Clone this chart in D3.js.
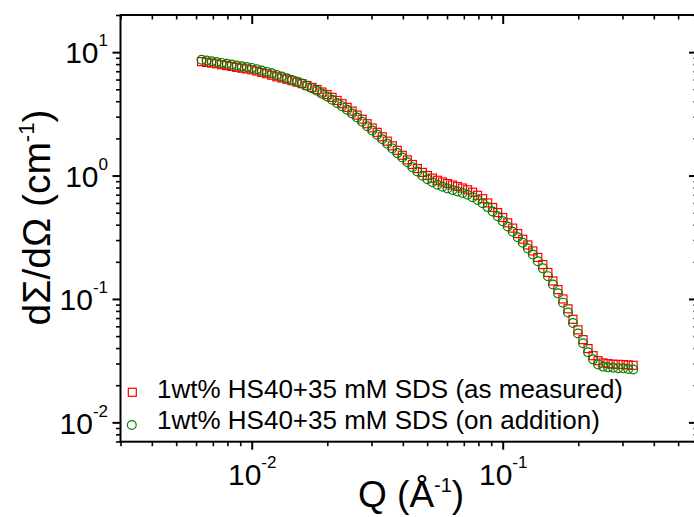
<!DOCTYPE html>
<html>
<head>
<meta charset="utf-8">
<script src="https://cdn.jsdelivr.net/npm/d3@7"></script>
<style>
  body { margin: 0; background: #fff; }
  svg { display: block; }
  svg text { font-family: "Liberation Sans", Arimo, Arial, Helvetica, sans-serif; }
</style>
</head>
<body>
<div id="chart"></div>
<script>
// Q values (1/Angstrom), shared by both series
const q = [
  0.006310, 0.006607, 0.006918, 0.007244, 0.007586, 0.007943, 0.008318, 0.008710, 0.009120, 0.009550,
  0.01000, 0.01047, 0.01096, 0.01148, 0.01202, 0.01259, 0.01318, 0.01380, 0.01445, 0.01514,
  0.01585, 0.01660, 0.01738, 0.01820, 0.01905, 0.01995, 0.02089, 0.02188, 0.02291, 0.02399,
  0.02512, 0.02630, 0.02754, 0.02884, 0.03020, 0.03162, 0.03311, 0.03467, 0.03631, 0.03802,
  0.03981, 0.04169, 0.04365, 0.04571, 0.04786, 0.05012, 0.05248, 0.05495, 0.05754, 0.06026,
  0.06310, 0.06607, 0.06918, 0.07244, 0.07586, 0.07943, 0.08318, 0.08710, 0.09120, 0.09550,
  0.1000, 0.1047, 0.1096, 0.1148, 0.1202, 0.1259, 0.1318, 0.1380, 0.1445, 0.1514,
  0.1585, 0.1660, 0.1738, 0.1820, 0.1905, 0.1995, 0.2089, 0.2188, 0.2291, 0.2399,
  0.2512, 0.2630, 0.2754, 0.2884, 0.3020, 0.3162, 0.3311
];

// dSigma/dOmega (1/cm), as measured
const measured = [
  8.38, 8.26, 8.15, 8.04, 7.91, 7.78, 7.66, 7.53, 7.41, 7.31,
  7.19, 7.03, 6.85, 6.68, 6.50, 6.31, 6.17, 6.03, 5.87, 5.71,
  5.56, 5.37, 5.18, 4.98, 4.75, 4.53, 4.30, 4.06, 3.82, 3.57,
  3.33, 3.09, 2.86, 2.63, 2.43, 2.24, 2.06, 1.90, 1.74, 1.60,
  1.46, 1.34, 1.23, 1.14, 1.06, 1.00, 0.953, 0.916, 0.887, 0.861,
  0.838, 0.815, 0.792, 0.766, 0.733, 0.692, 0.649, 0.600, 0.551, 0.501,
  0.457, 0.414, 0.375, 0.339, 0.305, 0.274, 0.245, 0.217, 0.190, 0.164,
  0.140, 0.119, 0.100, 0.0832, 0.0684, 0.0562, 0.0468, 0.0396, 0.0347, 0.0316,
  0.0303, 0.0299, 0.0296, 0.0295, 0.0294, 0.0292, 0.0290
];

// dSigma/dOmega (1/cm), on addition
const addition = [
  8.67, 8.55, 8.43, 8.32, 8.18, 8.05, 7.93, 7.80, 7.67, 7.57,
  7.45, 7.28, 7.10, 6.92, 6.73, 6.53, 6.34, 6.15, 5.96, 5.75,
  5.56, 5.33, 5.11, 4.86, 4.61, 4.37, 4.11, 3.87, 3.65, 3.41,
  3.18, 2.95, 2.73, 2.51, 2.32, 2.14, 1.97, 1.81, 1.66, 1.52,
  1.40, 1.28, 1.17, 1.08, 0.995, 0.933, 0.883, 0.843, 0.811, 0.785,
  0.764, 0.743, 0.723, 0.698, 0.668, 0.634, 0.597, 0.555, 0.512, 0.468,
  0.427, 0.386, 0.350, 0.316, 0.285, 0.256, 0.229, 0.202, 0.177, 0.153,
  0.131, 0.111, 0.0933, 0.0776, 0.0638, 0.0525, 0.0437, 0.0370, 0.0324, 0.0295,
  0.0283, 0.0279, 0.0277, 0.0275, 0.0274, 0.0271, 0.0268
];

const legendLabels = [
  "1wt% HS40+35 mM SDS (as measured)",
  "1wt% HS40+35 mM SDS (on addition)"
];

const FONT = "'Liberation Sans', Arimo, Arial, Helvetica, sans-serif";
const W = 694, H = 517;
const mLeft = 120.5, mRight = 698, mTop = 15, mBottom = 441.7;

const svg = d3.select("#chart").append("svg")
  .attr("width", W)
  .attr("height", H)
  .attr("font-family", FONT);

const x = d3.scaleLog().domain([0.003, 0.6]).range([mLeft, mRight]);
const y = d3.scaleLog().domain([0.00697, 20]).range([mBottom, mTop]);

const isMajor = v => Math.abs(Math.log10(v) - Math.round(Math.log10(v))) < 1e-6;
const xMinor = x.ticks().filter(d => !isMajor(d));
const xMajor = x.ticks().filter(isMajor);
const yMinor = y.ticks().filter(d => !isMajor(d));
const yMajor = y.ticks().filter(isMajor);

// superscript tick labels like 10^-2
function powerLabel(sel) {
  sel.each(function(d) {
    const t = d3.select(this).text(null).attr("font-family", FONT);
    t.append("tspan").text("10");
    t.append("tspan")
      .attr("font-size", 17)
      .attr("dy", -17)
      .text(Math.round(Math.log10(d)));
  });
}

function styleAxis(g, w) {
  g.attr("font-family", FONT);
  g.select(".domain").remove();
  g.selectAll(".tick line").attr("stroke", "#000").attr("stroke-width", w);
}

// bottom
svg.append("g")
  .attr("transform", `translate(0,${mBottom})`)
  .call(d3.axisBottom(x).tickValues(xMinor).tickSize(4.5).tickFormat(""))
  .call(g => styleAxis(g, 1.6));
svg.append("g")
  .attr("transform", `translate(0,${mBottom})`)
  .call(d3.axisBottom(x).tickValues(xMajor).tickSize(8).tickFormat(d => d))
  .call(g => styleAxis(g, 2))
  .call(g => g.selectAll(".tick text")
    .attr("y", 43).attr("dy", null)
    .attr("font-size", 30).attr("fill", "#000")
    .call(powerLabel));

// top (ticks inward)
svg.append("g")
  .attr("transform", `translate(0,${mTop})`)
  .call(d3.axisTop(x).tickValues(xMinor).tickSize(-4.5).tickFormat(""))
  .call(g => styleAxis(g, 1.6));
svg.append("g")
  .attr("transform", `translate(0,${mTop})`)
  .call(d3.axisTop(x).tickValues(xMajor).tickSize(-9).tickFormat(""))
  .call(g => styleAxis(g, 2));

// left
svg.append("g")
  .attr("transform", `translate(${mLeft},0)`)
  .call(d3.axisLeft(y).tickValues(yMinor).tickSize(4.5).tickFormat(""))
  .call(g => styleAxis(g, 1.6));
svg.append("g")
  .attr("transform", `translate(${mLeft},0)`)
  .call(d3.axisLeft(y).tickValues(yMajor).tickSize(8).tickPadding(4.5).tickFormat(d => d))
  .call(g => styleAxis(g, 2))
  .call(g => g.selectAll(".tick text")
    .attr("dy", null).attr("y", 10.8)
    .attr("font-size", 30).attr("fill", "#000")
    .call(powerLabel));

// right (ticks inward)
svg.append("g")
  .attr("transform", `translate(${mRight},0)`)
  .call(d3.axisRight(y).tickValues(yMinor).tickSize(-4.5).tickFormat(""))
  .call(g => styleAxis(g, 1.6));
svg.append("g")
  .attr("transform", `translate(${mRight},0)`)
  .call(d3.axisRight(y).tickValues(yMajor).tickSize(-9).tickFormat(""))
  .call(g => styleAxis(g, 2));

// frame
svg.append("rect")
  .attr("x", mLeft).attr("y", mTop)
  .attr("width", mRight - mLeft).attr("height", mBottom - mTop)
  .attr("fill", "none").attr("stroke", "#000").attr("stroke-width", 2);

// data
const sq = 8;
svg.append("g")
  .selectAll("rect")
  .data(q.map((d, i) => [d, measured[i]]))
  .join("rect")
    .attr("x", d => x(d[0]) - sq / 2)
    .attr("y", d => y(d[1]) - sq / 2)
    .attr("width", sq).attr("height", sq)
    .attr("fill", "none")
    .attr("stroke", "#ff0000")
    .attr("stroke-width", 1.2);

svg.append("g")
  .selectAll("circle")
  .data(q.map((d, i) => [d, addition[i]]))
  .join("circle")
    .attr("cx", d => x(d[0]))
    .attr("cy", d => y(d[1]))
    .attr("r", 4.4)
    .attr("fill", "none")
    .attr("stroke", "#008000")
    .attr("stroke-width", 1.2);

// legend
const legend = svg.append("g");
legend.append("rect")
  .attr("x", 132.3 - sq / 2).attr("y", 392.3 - sq / 2)
  .attr("width", sq).attr("height", sq)
  .attr("fill", "none").attr("stroke", "#ff0000").attr("stroke-width", 1.2);
legend.append("circle")
  .attr("cx", 131.8).attr("cy", 425)
  .attr("r", 4.4)
  .attr("fill", "none").attr("stroke", "#008000").attr("stroke-width", 1.2);
legend.selectAll("text")
  .data(legendLabels)
  .join("text")
    .attr("x", 157)
    .attr("y", (d, i) => 398.3 + i * 31)
    .attr("font-size", 26)
    .attr("font-family", FONT)
    .attr("fill", "#000")
    .text(d => d);

// axis titles
const xt = svg.append("text")
  .attr("x", 358).attr("y", 507)
  .attr("font-family", FONT)
  .attr("font-size", 37).attr("fill", "#000");
xt.append("tspan").text("Q (\u00C5");
xt.append("tspan").attr("font-size", 20).attr("dy", -15).text("-1");
xt.append("tspan").attr("dy", 15).text(")");

const yt = svg.append("text")
  .attr("transform", "translate(50,217.5) rotate(-90)")
  .attr("text-anchor", "middle")
  .attr("font-family", FONT)
  .attr("font-size", 39).attr("fill", "#000");
yt.append("tspan").text("d\u03A3/d\u03A9 (cm");
yt.append("tspan").attr("font-size", 22).attr("dy", -16).text("-1");
yt.append("tspan").attr("dy", 16).text(")");
</script>
</body>
</html>
